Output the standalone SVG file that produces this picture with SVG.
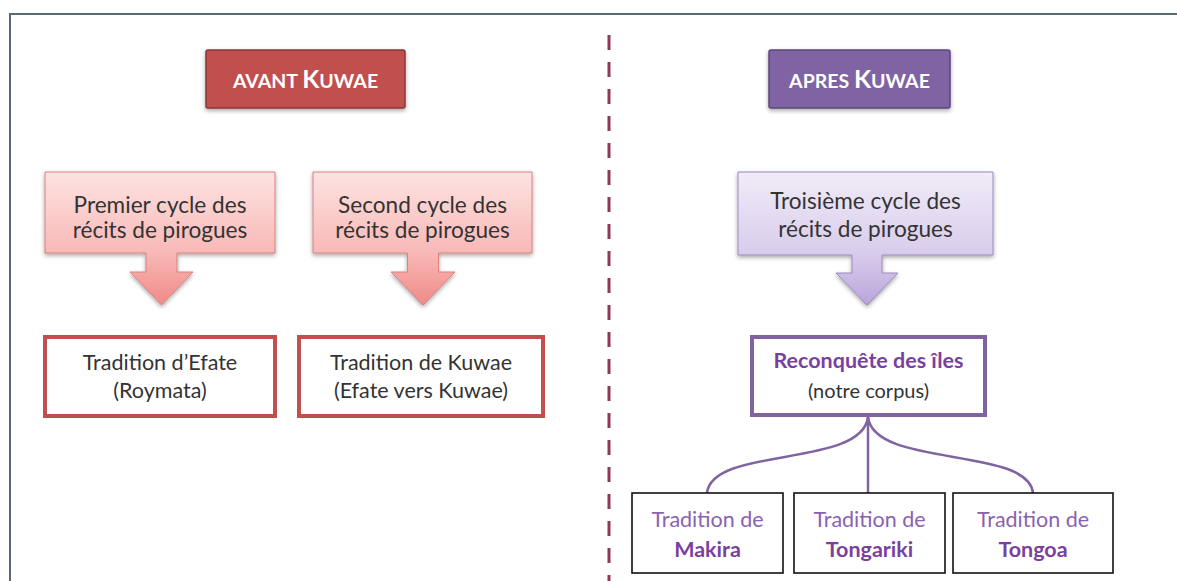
<svg xmlns="http://www.w3.org/2000/svg" width="1177" height="581" viewBox="0 0 1177 581">
<defs>
<linearGradient id="gRed" x1="0" y1="0" x2="0" y2="1">
<stop offset="0" stop-color="#fde3e2"/>
<stop offset="0.6" stop-color="#f8b9b7"/>
<stop offset="1" stop-color="#f08a88"/>
</linearGradient>
<linearGradient id="gPur" x1="0" y1="0" x2="0" y2="1">
<stop offset="0" stop-color="#f1ecf8"/>
<stop offset="0.6" stop-color="#d9cdec"/>
<stop offset="1" stop-color="#b9a5dc"/>
</linearGradient>
<filter id="sh" x="-10%" y="-10%" width="120%" height="130%">
<feDropShadow dx="0" dy="2" stdDeviation="2" flood-color="#000" flood-opacity="0.35"/>
</filter>
</defs>
<style>
.frame{fill:none;stroke:#5b6976;stroke-width:2}
.div{stroke:#8e3b52;stroke-width:3;stroke-dasharray:15 12}
.title{font-family:"Lato","Liberation Sans",sans-serif;font-weight:bold;fill:#fff;text-anchor:middle}
.t{font-family:"Lato","Liberation Sans",sans-serif;fill:#333;text-anchor:middle}
.big{font-size:22.6px}
.mid{font-size:21.5px}
.redbox{fill:#fff;stroke:#c0504d;stroke-width:4}
.purbox{fill:#fff;stroke:#8064a2;stroke-width:4}
.blkbox{fill:#fff;stroke:#111;stroke-width:1.6}
.pt{fill:#8a62b0}
.pb{fill:#7a3fa0;font-weight:bold}
.conn{fill:none;stroke:#8064a2;stroke-width:2.5}
</style>
<rect width="1177" height="581" fill="#fff"/>
<path class="frame" d="M10,581 V14 H1177"/>
<line class="div" x1="609" y1="35" x2="609" y2="581"/>

<g id="avant">
<rect x="206" y="50" width="199" height="58" rx="2" fill="#c0504d" stroke="#8c3634" stroke-width="1.5" filter="url(#sh)"/>
<text class="title" x="305.5" y="88"><tspan font-size="19.5">AVANT </tspan><tspan font-size="25">K</tspan><tspan font-size="19.5">UWAE</tspan></text>
</g>
<g id="apres">
<rect x="769" y="50" width="181" height="58" rx="2" fill="#8064a2" stroke="#5c4778" stroke-width="1.5" filter="url(#sh)"/>
<text class="title" x="859.5" y="88"><tspan font-size="19.5">APRES </tspan><tspan font-size="25">K</tspan><tspan font-size="19.5">UWAE</tspan></text>
</g>

<g id="cycle1">
<path d="M45,172 H275 V253 H177 V272 H193 L161.5,305 L130,272 H146 V253 H45 Z" fill="url(#gRed)" stroke="#d9827f" stroke-width="1" filter="url(#sh)"/>
<text class="t big" x="160" y="213">Premier cycle des</text>
<text class="t big" x="160" y="238">récits de pirogues</text>
</g>
<g id="cycle2">
<path d="M313,172 H532 V253 H438.5 V272 H455 L423,305 L391,272 H407.5 V253 H313 Z" fill="url(#gRed)" stroke="#d9827f" stroke-width="1" filter="url(#sh)"/>
<text class="t big" x="422.5" y="213">Second cycle des</text>
<text class="t big" x="422.5" y="238">récits de pirogues</text>
</g>
<g id="cycle3">
<path d="M738,172 H993 V255 H882 V273 H898 L867,305 L836,273 H852 V255 H738 Z" fill="url(#gPur)" stroke="#9c88bf" stroke-width="1" filter="url(#sh)"/>
<text class="t big" x="865.5" y="209">Troisième cycle des</text>
<text class="t big" x="865.5" y="237">récits de pirogues</text>
</g>

<g id="efate">
<rect class="redbox" x="45" y="337" width="230" height="79"/>
<text class="t mid" x="160" y="370">Tradition d’Efate</text>
<text class="t mid" x="160" y="398">(Roymata)</text>
</g>
<g id="kuwae">
<rect class="redbox" x="299" y="337" width="244" height="79"/>
<text class="t mid" x="421" y="370">Tradition de Kuwae</text>
<text class="t mid" x="421" y="398">(Efate vers Kuwae)</text>
</g>
<g id="reconquete">
<rect class="purbox" x="752" y="337" width="233" height="78"/>
<text class="t mid pb" x="868.5" y="368">Reconquête des îles</text>
<text class="t" font-size="20" x="868.5" y="398">(notre corpus)</text>
</g>

<g id="connectors">
<path class="conn" d="M868,417 C862,468 712,446 707,493"/>
<path class="conn" d="M868,417 V493"/>
<path class="conn" d="M868,417 C874,468 1028,446 1033,493"/>
</g>

<g id="makira">
<rect class="blkbox" x="632" y="493" width="151" height="80"/>
<text class="t mid pt" x="707.5" y="527">Tradition de</text>
<text class="t mid pb" x="707.5" y="557">Makira</text>
</g>
<g id="tongariki">
<rect class="blkbox" x="794" y="493" width="151" height="80"/>
<text class="t mid pt" x="869.5" y="527">Tradition de</text>
<text class="t mid pb" x="869.5" y="557">Tongariki</text>
</g>
<g id="tongoa">
<rect class="blkbox" x="953" y="493" width="160" height="80"/>
<text class="t mid pt" x="1033" y="527">Tradition de</text>
<text class="t mid pb" x="1033" y="557">Tongoa</text>
</g>
</svg>
